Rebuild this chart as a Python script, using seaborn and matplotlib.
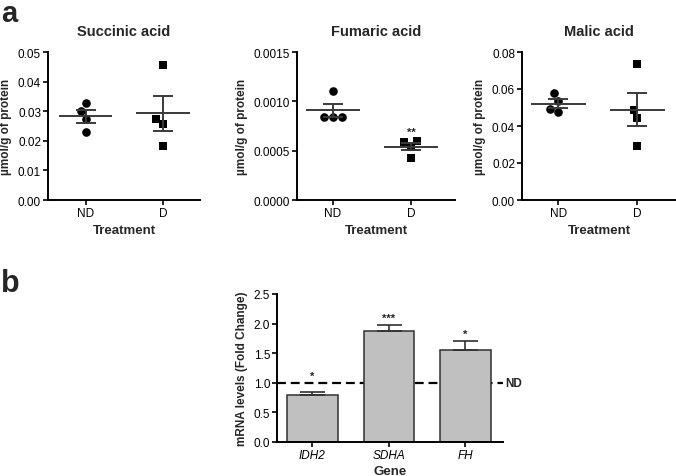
import numpy as np
import pandas as pd
import matplotlib
matplotlib.use("Agg")
import matplotlib.pyplot as plt
import seaborn as sns

sns.set_style("ticks")
plt.rcParams['font.family'] = ['Liberation Sans', 'DejaVu Sans']

# ---------------- data ----------------
groups = ["ND", "D"]
succinic_nd = [0.0327, 0.0299, 0.0275, 0.0229]
succinic_d = [0.0455, 0.0274, 0.0256, 0.0184]
fumaric_nd = [0.00110, 0.000844, 0.000844, 0.000844]
fumaric_d = [0.000592, 0.000602, 0.000541, 0.000430]
malic_nd = [0.0578, 0.0537, 0.0492, 0.0477]
malic_d = [0.0733, 0.0485, 0.0443, 0.0294]
titles = ["Succinic acid", "Fumaric acid", "Malic acid"]
yticks_a = [[0.00, 0.01, 0.02, 0.03, 0.04, 0.05],
            [0.0000, 0.0005, 0.0010, 0.0015],
            [0.00, 0.02, 0.04, 0.06, 0.08]]
ytick_fmt = ["{:.2f}", "{:.4f}", "{:.2f}"]
sig_a = ["", "**", ""]

genes = ["IDH2", "SDHA", "FH"]
fold_change = [0.795, 1.87, 1.55]
fold_sem = [0.045, 0.105, 0.15]
sig_b = ["*", "***", "*"]
b_yticks = [0.0, 0.5, 1.0, 1.5, 2.0, 2.5]
nd_level = 1.0

W, H = 676, 477
fig = plt.figure(figsize=(W / 100, H / 100), dpi=100)


def ax_at(l, t, r, b):
    return fig.add_axes([l / W, 1 - b / H, (r - l) / W, (b - t) / H])


def style(ax):
    for s in ["top", "right"]:
        ax.spines[s].set_visible(False)
    for s in ["left", "bottom"]:
        ax.spines[s].set_linewidth(1.4)
        ax.spines[s].set_color("black")
    ax.tick_params(axis="both", direction="out", length=3.5, width=1.2,
                   color="black", labelsize=8.5, pad=1.5, labelcolor="black")


datasets = [(succinic_nd, succinic_d), (fumaric_nd, fumaric_d), (malic_nd, malic_d)]
boxes = [(48, 53, 200, 201), (297, 53, 455, 201), (522, 53, 676, 201)]
xlims = [(-0.49, 1.48), (-0.46, 1.56), (-0.46, 1.49)]

for i, ((nd, d), box) in enumerate(zip(datasets, boxes)):
    ax = ax_at(*box)
    df = pd.DataFrame({"group": ["ND"] * len(nd) + ["D"] * len(d),
                       "value": list(nd) + list(d)})
    sns.swarmplot(data=df[df.group == "ND"], x="group", y="value", order=groups,
                  color="black", marker="o", size=6.2, ax=ax, zorder=3)
    sns.swarmplot(data=df[df.group == "D"], x="group", y="value", order=groups,
                  color="black", marker="s", size=6.0, ax=ax, zorder=3)
    for k, vals in enumerate([nd, d]):
        v = np.array(vals)
        m = v.mean()
        se = v.std(ddof=1) / np.sqrt(len(v))
        ax.hlines(m, k - 0.345, k + 0.345, color="#3a3a3a", lw=1.4, zorder=4)
        ax.errorbar(k, m, yerr=se, fmt="none", ecolor="#3a3a3a", elinewidth=1.4,
                    capsize=7, capthick=1.4, zorder=4)
        if k == 1 and sig_a[i]:
            ax.text(k, m + se + (yticks_a[i][-1]) * 0.04, sig_a[i], ha="center",
                    va="bottom", fontsize=8, fontweight="bold")
    ax.set_xlim(*xlims[i])
    ax.set_ylim(yticks_a[i][0], yticks_a[i][-1])
    ax.set_yticks(yticks_a[i])
    ax.set_yticklabels([ytick_fmt[i].format(t) for t in yticks_a[i]])
    style(ax)
    ax.set_title(titles[i], fontsize=10.5, fontweight="bold", pad=12)
    ax.set_xlabel("Treatment", fontsize=9.5, fontweight="bold", labelpad=4)
    ax.set_ylabel("µmol/g of protein", fontsize=8.5, fontweight="bold", labelpad=4)

# ---------------- panel b ----------------
axb = ax_at(277, 295, 503, 443)
dfb = pd.DataFrame({"gene": genes, "fc": fold_change, "sem": fold_sem})
axb.axhline(nd_level, color="black", lw=1.6, ls=(0, (4, 2.2)), zorder=0)
sns.barplot(data=dfb, x="gene", y="fc", order=genes, color="#c0c0c0",
            edgecolor="#303030", linewidth=1.1, width=0.66, saturation=1,
            errorbar=None, ax=axb, zorder=2)
for k, (v, s, sg) in enumerate(zip(fold_change, fold_sem, sig_b)):
    axb.errorbar(k, v, yerr=[[0], [s]], fmt="none", ecolor="#303030",
                 elinewidth=1.2, capsize=9, capthick=1.2, zorder=3)
    top = max(v + s, nd_level)
    axb.text(k, top + 0.04, sg, ha="center", va="bottom", fontsize=8,
             fontweight="bold", zorder=5)
axb.set_xlim(-0.46, 2.49)
axb.set_ylim(0, 2.5)
axb.set_yticks(b_yticks)
axb.set_yticklabels(["{:.1f}".format(t) for t in b_yticks])
style(axb)
axb.set_xticks(range(len(genes)))
axb.set_xticklabels(genes, fontstyle="italic")
axb.set_xlabel("Gene", fontsize=9.5, fontweight="bold", labelpad=3)
axb.set_ylabel("mRNA levels (Fold Change)", fontsize=8.5, fontweight="bold",
               labelpad=4)
axb.text(1.01, nd_level, "ND", transform=axb.get_yaxis_transform(), ha="left",
         va="center", fontsize=8.5, fontweight="bold", clip_on=False)

fig.text(1 / W, 1 - 0.5 / H, "a", fontsize=21, fontweight="bold",
         va="top", ha="left")
fig.text(1 / W, 1 - 292 / H, "b", fontsize=22, fontweight="bold",
         va="baseline", ha="left")

fig.savefig("out.png", dpi=100)
